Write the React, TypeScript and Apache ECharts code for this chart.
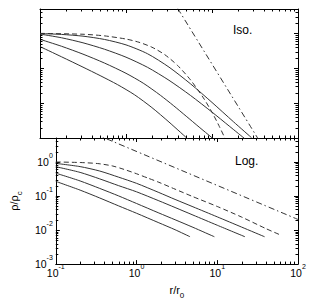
import React, { useEffect, useRef } from 'react';
import * as echarts from 'echarts';

const FONT = "'Liberation Sans', Arial, Helvetica, sans-serif";

// r/r0 (x) and rho/rho_c (y)
// Top panel: "Iso."
const isoDashed: [number, number][] = [
  [0.1, 1.0], [0.316, 0.944], [0.562, 0.848], [1.0, 0.688], [1.413, 0.557], [1.995, 0.403],
  [2.82, 0.246], [3.98, 0.1202], [5.62, 0.0465], [7.94, 0.01413], [10.0, 0.00547], [12.0, 0.0023], [14.1, 0.001],
];
const isoA: [number, number][] = [
  [0.1, 0.989], [0.178, 0.933], [0.316, 0.832], [0.562, 0.67], [1.0, 0.468], [1.778, 0.261],
  [3.16, 0.1078], [5.62, 0.0358], [10.0, 0.01047], [17.8, 0.00291], [28.8, 0.00102],
];
const isoB: [number, number][] = [
  [0.1, 0.955], [0.178, 0.748], [0.316, 0.537], [0.562, 0.351], [1.0, 0.2077], [1.778, 0.1065],
  [3.16, 0.0452], [5.62, 0.01663], [10.0, 0.00553], [15.85, 0.0022], [24, 0.00096],
];
const isoC: [number, number][] = [
  [0.1, 0.676], [0.178, 0.427], [0.316, 0.254], [0.562, 0.141], [1.0, 0.0716], [1.585, 0.0374],
  [2.51, 0.0168], [3.55, 0.00856], [5.01, 0.00422], [7.08, 0.00206], [10.0, 0.00102], [10.2, 0.001],
];
const isoD: [number, number][] = [
  [0.1, 0.417], [0.178, 0.213], [0.316, 0.1077], [0.5, 0.0616], [0.794, 0.0341], [1.26, 0.01728],
  [2.0, 0.00746], [3.16, 0.00287], [5.25, 0.00093],
];
const isoRef: [number, number][] = [[4.0, 5.15], [35, 0.00088]];

// Bottom panel: "Log."
const logDashed: [number, number][] = [
  [0.1, 0.99], [0.2, 0.955], [0.33, 0.89], [0.5, 0.76], [0.7, 0.6], [1.0, 0.447], [1.4, 0.33],
  [1.89, 0.251], [3, 0.158], [5, 0.095], [10, 0.049], [20, 0.024], [40, 0.011], [61, 0.0071],
];
const logA: [number, number][] = [
  [0.1, 0.9], [0.2, 0.724], [0.35, 0.537], [0.6, 0.355], [1.0, 0.234], [1.89, 0.126],
  [3, 0.079], [5, 0.048], [10, 0.0243], [20, 0.0122], [38.5, 0.00635],
];
const logB: [number, number][] = [
  [0.1, 0.72], [0.2, 0.49], [0.35, 0.316], [0.6, 0.2], [1.0, 0.132], [1.89, 0.072],
  [3, 0.0457], [5, 0.0275], [10, 0.0138], [22, 0.00635],
];
const logC: [number, number][] = [
  [0.1, 0.465], [0.2, 0.275], [0.35, 0.166], [0.6, 0.1], [1.0, 0.06], [1.89, 0.0316],
  [3, 0.02], [5, 0.012], [9.2, 0.00635],
];
const logD: [number, number][] = [
  [0.1, 0.267], [0.2, 0.148], [0.35, 0.087], [0.6, 0.051], [1.0, 0.031], [1.89, 0.0163],
  [3, 0.0102], [4.6, 0.00635],
];
const logRef: [number, number][] = [[0.3, 6.7], [100, 0.0204]];

const panelLabels = ['Iso.', 'Log.'];
const X_MIN = 0.1;
const X_MAX = 100;
const Y_MIN = 0.001;
const Y_MAX = 5;

const minorFactors = [2, 3, 4, 5, 6, 7, 8, 9];
const xDecades = [0.1, 1, 10];
const yDecades = [0.001, 0.01, 0.1, 1];
const xMinor = xDecades.flatMap((d) => minorFactors.map((f) => d * f));
const yMinor = yDecades.flatMap((d) => minorFactors.map((f) => d * f)).filter((v) => v < Y_MAX);

const LINE_COLOR = '#333';

const powRich = {
  b: { fontSize: 10.5, lineHeight: 12, padding: [4, 0, 4, 0], fontFamily: FONT, color: '#000' },
  e: { fontSize: 7, lineHeight: 7, padding: [0, 0, 13, 0], fontFamily: FONT, color: '#000' },
};
const powFormatter = (v: number) => {
  const exp = Math.round(Math.log10(v));
  return `{b|10}{e|${exp}}`;
};
const subRich = {
  a: { fontSize: 11, lineHeight: 12, padding: [0, 0, 4, 0], fontFamily: FONT, color: '#000' },
  s: { fontSize: 8, lineHeight: 8, padding: [7, 0, 1, 0], fontFamily: FONT, color: '#000' },
};

function logAxis(gridIndex: number, position: string, min: number, max: number, labels: boolean, extra: any = {}) {
  return {
    type: 'log',
    logBase: 10,
    gridIndex,
    position,
    min,
    max,
    axisLine: { show: true, onZero: false, lineStyle: { color: '#000', width: 1 } },
    axisTick: { show: true, inside: true, length: 4, lineStyle: { color: '#000', width: 1 } },
    minorTick: { show: false },
    splitLine: { show: false },
    axisLabel: labels
      ? { show: true, formatter: powFormatter, rich: powRich, margin: 3, showMaxLabel: extra.showMax ?? true }
      : { show: false },
    ...extra.more,
  };
}

function lineSeries(data: [number, number][], xi: number, yi: number, type: any) {
  return {
    type: 'line',
    xAxisIndex: xi,
    yAxisIndex: yi,
    data,
    smooth: 0.25,
    showSymbol: false,
    symbol: 'none',
    clip: true,
    lineStyle: { color: LINE_COLOR, width: 1, type },
  };
}

function minorTickSeries(xi: number, yi: number, dir: 'x' | 'y') {
  return {
    type: 'custom',
    xAxisIndex: xi,
    yAxisIndex: yi,
    silent: true,
    clip: false,
    z: 5,
    data: dir === 'x' ? xMinor.map((v) => [v, 1]) : yMinor.map((v) => [1, v]),
    renderItem: (params: any, api: any) => {
      const cs = params.coordSys;
      const p = api.coord([api.value(0), api.value(1)]);
      const L = 2.5;
      const st = { stroke: '#000', lineWidth: 1 };
      if (dir === 'x') {
        const x = Math.round(p[0]) + 0.5;
        const yb = cs.y + cs.height;
        const yt = cs.y;
        return {
          type: 'group',
          children: [
            { type: 'line', shape: { x1: x, y1: yb, x2: x, y2: yb - L }, style: st },
            { type: 'line', shape: { x1: x, y1: yt, x2: x, y2: yt + L }, style: st },
          ],
        };
      }
      const y = Math.round(p[1]) + 0.5;
      const xl = cs.x;
      const xr = cs.x + cs.width;
      return {
        type: 'group',
        children: [
          { type: 'line', shape: { x1: xl, y1: y, x2: xl + L, y2: y }, style: st },
          { type: 'line', shape: { x1: xr, y1: y, x2: xr - L, y2: y }, style: st },
        ],
      };
    },
  };
}

const DASH = [5, 3];
const DASHDOT = [6, 3, 1.5, 3];

export default function App() {
  const ref = useRef<HTMLDivElement>(null);
  useEffect(() => {
    if (!ref.current) return;
    const chart = echarts.init(ref.current, undefined, { renderer: 'svg' });
    const option: any = {
      animation: false,
      backgroundColor: '#fff',
      textStyle: { fontFamily: FONT },
      grid: [
        { left: 40, top: 9, width: 258, height: 129, containLabel: false },
        { left: 40, top: 138, width: 258, height: 129, containLabel: false },
      ],
      xAxis: [
        logAxis(0, 'bottom', X_MIN, X_MAX, false),
        logAxis(0, 'top', X_MIN, X_MAX, false),
        logAxis(1, 'bottom', X_MIN, X_MAX, true, {
          more: {
            name: '{a|r/r}{s|0}',
            nameLocation: 'middle',
            nameGap: 21,
            nameTextStyle: { rich: subRich },
          },
        }),
        logAxis(1, 'top', X_MIN, X_MAX, false),
      ],
      yAxis: [
        logAxis(0, 'left', Y_MIN, Y_MAX, false),
        logAxis(0, 'right', Y_MIN, Y_MAX, false),
        logAxis(1, 'left', Y_MIN, Y_MAX, true, {
          showMax: false,
          more: {
            name: '{a|ρ/ρ}{s|c}',
            nameLocation: 'middle',
            nameGap: 24,
            nameRotate: 90,
            nameTextStyle: { rich: subRich },
          },
        }),
        logAxis(1, 'right', Y_MIN, Y_MAX, false),
      ],
      graphic: [
        {
          type: 'text',
          x: 233,
          y: 30,
          style: { text: panelLabels[0], font: `12px ${FONT}`, fill: '#000', textAlign: 'left', textVerticalAlign: 'middle', align: 'left', verticalAlign: 'middle' },
        },
        {
          type: 'text',
          x: 235,
          y: 161,
          style: { text: panelLabels[1], font: `12px ${FONT}`, fill: '#000', textAlign: 'left', textVerticalAlign: 'middle', align: 'left', verticalAlign: 'middle' },
        },
      ],
      series: [
        lineSeries(isoDashed, 0, 0, DASH),
        lineSeries(isoA, 0, 0, 'solid'),
        lineSeries(isoB, 0, 0, 'solid'),
        lineSeries(isoC, 0, 0, 'solid'),
        lineSeries(isoD, 0, 0, 'solid'),
        lineSeries(isoRef, 0, 0, DASHDOT),
        lineSeries(logDashed, 2, 2, DASH),
        lineSeries(logA, 2, 2, 'solid'),
        lineSeries(logB, 2, 2, 'solid'),
        lineSeries(logC, 2, 2, 'solid'),
        lineSeries(logD, 2, 2, 'solid'),
        lineSeries(logRef, 2, 2, DASHDOT),
        minorTickSeries(0, 0, 'x'),
        minorTickSeries(0, 0, 'y'),
        minorTickSeries(2, 2, 'x'),
        minorTickSeries(2, 2, 'y'),
      ],
    };
    chart.setOption(option);
    return () => chart.dispose();
  }, []);
  return (
    <div
      ref={ref}
      style={{ position: 'fixed', left: 0, top: 0, width: 310, height: 301, background: '#fff' }}
    />
  );
}
